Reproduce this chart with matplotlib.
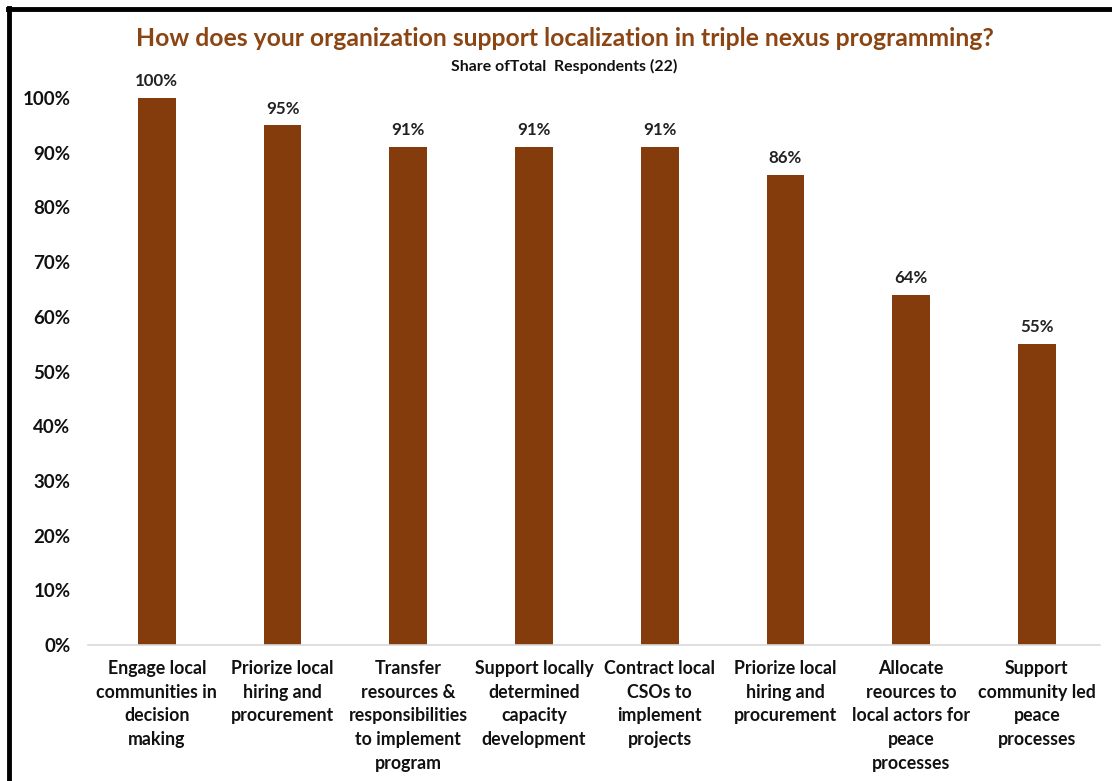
import matplotlib
matplotlib.use("Agg")
import matplotlib.pyplot as plt
from matplotlib.lines import Line2D

categories = [
    "Engage local\ncommunities in\ndecision\nmaking",
    "Priorize local\nhiring and\nprocurement",
    "Transfer\nresources &\nresponsibilities\nto implement\nprogram",
    "Support locally\ndetermined\ncapacity\ndevelopment",
    "Contract local\nCSOs to\nimplement\nprojects",
    "Priorize local\nhiring and\nprocurement",
    "Allocate\nreources to\nlocal actors for\npeace\nprocesses",
    "Support\ncommunity led\npeace\nprocesses",
]
shares = [1.00, 0.95, 0.91, 0.91, 0.91, 0.86, 0.64, 0.55]
yticks = [0.0, 0.1, 0.2, 0.3, 0.4, 0.5, 0.6, 0.7, 0.8, 0.9, 1.0]

plt.rcParams["font.family"] = ["Lato", "DejaVu Sans"]
bar_color = "#843C0C"
title_color = "#8B4513"

fig = plt.figure(figsize=(11.12, 7.81), dpi=100)
ax = fig.add_axes([0.0845, 0.1741, 0.9045, 0.7004])

x = list(range(len(categories)))
ax.bar(x, shares, width=0.3, color=bar_color, zorder=2)
ax.set_xlim(-0.5, len(categories) - 0.5)
ax.set_ylim(0, 1.0)

for xi, v in zip(x, shares):
    ax.text(xi, v + 0.016, f"{round(v * 100)}%", ha="center", va="bottom",
            fontsize=12.2, fontweight="bold", color="#222222", clip_on=False)

ax.set_yticks(yticks)
ax.set_yticklabels([f"{round(t * 100)}%" for t in yticks],
                   fontsize=13.5, fontweight="bold", color="#111111")
ax.set_xticks(x)
ax.set_xticklabels(categories, fontsize=12.8, fontweight="bold",
                   color="#111111", linespacing=1.47, va="top")
ax.tick_params(axis="both", length=0)
ax.tick_params(axis="y", pad=17)
ax.tick_params(axis="x", pad=11)

for side in ["top", "right", "left"]:
    ax.spines[side].set_visible(False)
ax.spines["bottom"].set_color("#d9d9d9")
ax.spines["bottom"].set_linewidth(1.2)
ax.spines["bottom"].set_bounds(-0.55, len(categories) - 0.5)

fig.text(0.508, 0.951, "How does your organization support localization in triple nexus programming?",
         ha="center", va="center", fontsize=17.8, fontweight="bold", color=title_color)
fig.text(0.507, 0.915, "Share ofTotal  Respondents (22)",
         ha="center", va="center", fontsize=11.4, fontweight="bold", color="#111111")

# frame edges along the top and left of the canvas
fig.add_artist(Line2D([0.007, 1.0], [0.9885, 0.9885], transform=fig.transFigure,
                      color="black", linewidth=3.5))
fig.add_artist(Line2D([0.0081, 0.0081], [0.0, 0.99], transform=fig.transFigure,
                      color="black", linewidth=3.5))

fig.savefig("out.png", dpi=100, facecolor="white")
